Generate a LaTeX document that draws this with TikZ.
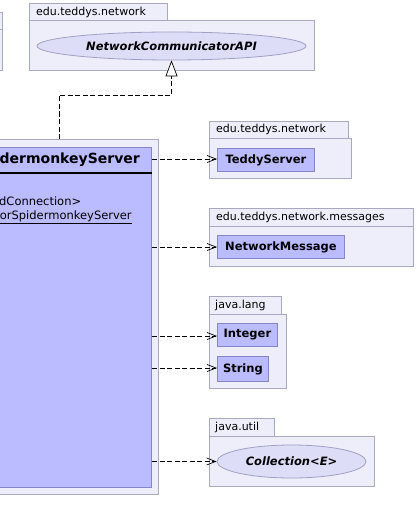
\documentclass[tikz,border=0pt]{standalone}
\usepackage{fontspec}
\setmainfont{DejaVu Sans}
\usetikzlibrary{arrows.meta,shapes.geometric}
\definecolor{pkgfill}{HTML}{EEEEFB}
\definecolor{pkgline}{HTML}{A8A8C0}
\definecolor{clsfill}{HTML}{BBBBFF}
\definecolor{clsline}{HTML}{8585C8}
\definecolor{ifill}{HTML}{DDDDF8}
\definecolor{iline}{HTML}{A0A0C4}
\tikzset{
  pkgbox/.style={draw=pkgline,fill=pkgfill,line width=0.9pt},
  pkglabel/.style={anchor=west,inner sep=0pt,font=\fontsize{11}{13}\selectfont},
  clsbox/.style={draw=clsline,fill=clsfill,line width=0.9pt,inner sep=0pt,
    font=\bfseries\fontsize{11.5}{13}\selectfont,anchor=north west},
  iface/.style={ellipse,draw=iline,fill=ifill,line width=0.8pt,inner sep=0pt,
    font=\bfseries\itshape\fontsize{11.5}{13}\selectfont},
  dep/.style={dash pattern=on 5pt off 2.5pt,line width=0.7pt,
    -{Straight Barb[length=9pt,width=7pt,line width=0.7pt]}},
  gen/.style={dash pattern=on 5pt off 2.5pt,line width=0.7pt,
    -{Triangle[open,length=16pt,width=12pt,line width=0.7pt,fill=white]}}
}
\begin{document}
\begin{tikzpicture}[x=1pt,y=-1pt]
\clip (0,0) rectangle (416,532);
\fill[white] (0,0) rectangle (416,532);
% left partial package
\draw[pkgbox] (-20,12) rectangle (2,29);
\draw[pkgbox] (-20,29) rectangle (2,70);
% top package
\draw[pkgbox] (29,3) rectangle (167,20);
\draw[pkgbox] (29,20) rectangle (314,70);
\node[pkglabel] (p1lab) at (36,12) {edu.teddys.network};
\node[iface,minimum width=269pt,minimum height=28pt] (api) at (171.5,46) {NetworkCommunicatorAPI};
% main package and class
\node[pkgbox,anchor=north east,minimum width=200pt,minimum height=355pt,inner sep=0pt] (mainpkg) at (159,139) {};
\node[draw=clsline,fill=clsfill,line width=0.9pt,anchor=north east,minimum width=200pt,minimum height=340pt,inner sep=0pt] (main) at (152,147) {};
\draw[line width=2pt] (-50,173) -- (152,173);
\node[anchor=east,inner sep=0pt,font=\bfseries\fontsize{14}{16}\selectfont] (mtitle) at (140,160) {dermonkeyServer};
\node[anchor=west,inner sep=0pt,font=\fontsize{11.5}{13}\selectfont] (mattr1) at (80.5,201) {\llap{dConnection>}};
\node[anchor=west,inner sep=0pt,font=\fontsize{11.5}{13}\selectfont] (mattr2) at (131,217) {\llap{\underline{orSpidermonkeyServer}}};
% TeddyServer package
\draw[pkgbox] (209,121) rectangle (348,138);
\draw[pkgbox] (209,138) rectangle (351,178);
\node[pkglabel] (p2lab) at (216,129.5) {edu.teddys.network};
\node[clsbox,minimum width=97pt,minimum height=23pt] (ts) at (217,148) {TeddyServer};
% NetworkMessage package
\draw[pkgbox] (209,208) rectangle (413,226);
\draw[pkgbox] (209,226) rectangle (413,266);
\node[pkglabel] (p3lab) at (216,217) {edu.teddys.network.messages};
\node[clsbox,minimum width=127pt,minimum height=23pt] (nm) at (217,235) {NetworkMessage};
% java.lang package
\draw[pkgbox] (209,296) rectangle (281,314);
\draw[pkgbox] (209,314) rectangle (286,388);
\node[pkglabel] (p4lab) at (215,305) {java.lang};
\node[clsbox,minimum width=60pt,minimum height=23pt] (int) at (217,323) {Integer};
\node[clsbox,minimum width=51pt,minimum height=25pt] (str) at (217,356) {String};
% java.util package
\draw[pkgbox] (209,418) rectangle (274,436);
\draw[pkgbox] (209,436) rectangle (374,486);
\node[pkglabel] (p5lab) at (215,427) {java.util};
\node[iface,minimum width=149pt,minimum height=33pt] (coll) at (291.5,461.5) {Collection<E>};
% connectors
\coordinate (g1) at (59,139);
\draw[gen] (g1) -- ++(0,-44) -| (api.south);
\draw[dep] (main.east |- 0,159) -- (ts.west |- 0,159);
\draw[dep] (main.east |- 0,247) -- (nm.west |- 0,247);
\draw[dep] (main.east |- 0,336) -- (int.west |- 0,336);
\draw[dep] (main.east |- 0,368) -- (str.west |- 0,368);
\draw[dep] (main.east |- coll.west) -- (coll.west);
\end{tikzpicture}
\end{document}
